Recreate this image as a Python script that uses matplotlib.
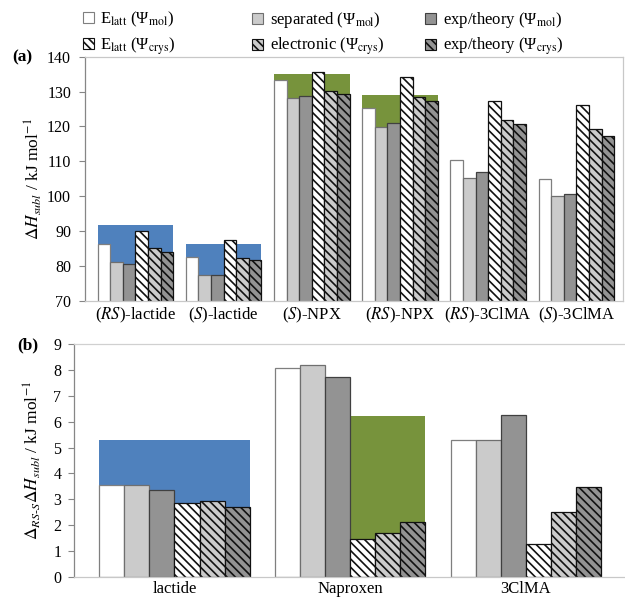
import numpy as np
import matplotlib
matplotlib.use('Agg')
import matplotlib.pyplot as plt
from matplotlib.patches import Patch

plt.rcParams['font.family'] = ['Liberation Serif', 'DejaVu Serif']
plt.rcParams['mathtext.fontset'] = 'stix'
plt.rcParams['hatch.linewidth'] = 1.2

# ---------------- data ----------------
series_labels = [r'E$_{\rm latt}$ (Ψ$_{\rm mol}$)',
                 r'separated (Ψ$_{\rm mol}$)',
                 r'exp/theory (Ψ$_{\rm mol}$)',
                 r'E$_{\rm latt}$ (Ψ$_{\rm crys}$)',
                 r'electronic (Ψ$_{\rm crys}$)',
                 r'exp/theory (Ψ$_{\rm crys}$)']

# Panel (a)
categories_a = [r'($\mathit{RS}$)-lactide', r'($\mathit{S}$)-lactide', r'($\mathit{S}$)-NPX',
                r'($\mathit{RS}$)-NPX', r'($\mathit{RS}$)-3ClMA', r'($\mathit{S}$)-3ClMA']
elatt_mol_a = [86.2, 82.6, 133.3, 125.2, 110.4, 105.0]
separated_mol_a = [81.1, 77.5, 128.1, 119.9, 105.2, 99.9]
exptheory_mol_a = [80.6, 77.3, 128.7, 120.9, 106.8, 100.6]
elatt_crys_a = [90.1, 87.3, 135.5, 134.3, 127.3, 126.2]
electronic_crys_a = [85.1, 82.2, 130.3, 128.5, 121.9, 119.4]
exptheory_crys_a = [84.1, 81.6, 129.4, 127.3, 120.7, 117.2]
experiment_a = [91.6, 86.2, 135.0, 129.0, np.nan, np.nan]

# Panel (b)
categories_b = ['lactide', 'Naproxen', '3ClMA']
elatt_mol_b = [3.54, 8.06, 5.29]
separated_mol_b = [3.56, 8.19, 5.29]
exptheory_mol_b = [3.35, 7.71, 6.24]
elatt_crys_b = [2.86, 1.47, 1.26]
electronic_crys_b = [2.93, 1.69, 2.52]
exptheory_crys_b = [2.72, 2.11, 3.49]
experiment_b = [5.3, 6.2, np.nan]

# ---------------- styles ----------------
BLUE = '#4F81BD'
GREEN = '#77933C'
HATCH = '\\\\\\\\'
styles = [
    dict(facecolor='white', edgecolor='#7F7F7F', hatch=None),
    dict(facecolor='#CBCBCB', edgecolor='#6F6F6F', hatch=None),
    dict(facecolor='#939393', edgecolor='#404040', hatch=None),
    dict(facecolor='white', edgecolor='#111111', hatch=HATCH),
    dict(facecolor='#CBCBCB', edgecolor='#111111', hatch=HATCH),
    dict(facecolor='#939393', edgecolor='#111111', hatch=HATCH),
]

W, H = 625, 602
fig = plt.figure(figsize=(W / 100, H / 100), dpi=100)


def fx(px):
    return px / W


def fy(py):
    return 1 - py / H


# ---------------- panel (a) ----------------
ax_a = fig.add_axes([fx(85), fy(300.7), fx(623) - fx(85), fy(56.7) - fy(300.7)])
series_a = [elatt_mol_a, separated_mol_a, exptheory_mol_a,
            elatt_crys_a, electronic_crys_a, exptheory_crys_a]
centers_a = 7 * np.arange(len(categories_a))
band_colors_a = [BLUE, BLUE, GREEN, GREEN, None, None]
for c, v, col in zip(centers_a, experiment_a, band_colors_a):
    if not np.isnan(v):
        ax_a.bar(c, v, width=6, color=col, edgecolor='none', zorder=1)
for j, (vals, st) in enumerate(zip(series_a, styles)):
    ax_a.bar(centers_a + (j - 2.5), vals, width=1, linewidth=0.9, zorder=2, **st)
ax_a.set_ylim(70, 140)
ax_a.set_xlim(-4, 38.7)
ax_a.set_yticks(np.arange(70, 141, 10))
ax_a.set_xticks(centers_a)
ax_a.set_xticklabels(categories_a, fontsize=12)
ax_a.tick_params(axis='x', length=0, pad=4)
ax_a.tick_params(axis='y', direction='out', length=4, color='#868686', labelsize=11.5, pad=6)
for s in ['top', 'right', 'bottom']:
    ax_a.spines[s].set_color('#C8C8C8')
ax_a.spines['left'].set_color('#868686')
for s in ax_a.spines.values():
    s.set_linewidth(0.9)

fig.text(fx(12), fy(57), '(a)', fontsize=12.5, weight='bold', va='center', ha='left')
fig.text(fx(33), fy(179), r'$\Delta H_{subl}$ / kJ mol$^{-1}$', rotation=90,
         fontsize=12.5, ha='center', va='center')

# ---------------- panel (b) ----------------
ax_b = fig.add_axes([fx(74), fy(577), 1 - fx(74), fy(344) - fy(577)])
series_b = [elatt_mol_b, separated_mol_b, exptheory_mol_b,
            elatt_crys_b, electronic_crys_b, exptheory_crys_b]
centers_b = 7 * np.arange(len(categories_b))
# blue band spans the whole lactide group, green band only the crystal bars of naproxen
ax_b.bar(centers_b[0], experiment_b[0], width=6, color=BLUE, edgecolor='none', zorder=1)
ax_b.bar(centers_b[1] + 1.5, experiment_b[1], width=3, color=GREEN, edgecolor='none', zorder=1)
for j, (vals, st) in enumerate(zip(series_b, styles)):
    ax_b.bar(centers_b + (j - 2.5), vals, width=1, linewidth=0.9, zorder=2, **st)
ax_b.set_ylim(0, 9)
ax_b.set_xlim(-4, 17.95)
ax_b.set_yticks(np.arange(0, 10, 1))
ax_b.set_xticks(centers_b)
ax_b.set_xticklabels(categories_b, fontsize=12)
ax_b.tick_params(axis='x', length=0, pad=3)
ax_b.tick_params(axis='y', direction='out', length=4, color='#868686', labelsize=11.5, pad=5)
ax_b.spines['top'].set_color('#D0D0D0')
ax_b.spines['right'].set_visible(False)
ax_b.spines['bottom'].set_color('#C8C8C8')
ax_b.spines['left'].set_color('#868686')
for s in ax_b.spines.values():
    s.set_linewidth(0.9)

fig.text(fx(17), fy(345), '(b)', fontsize=12.5, weight='bold', va='center', ha='left')
fig.text(fx(32), fy(460), r'$\Delta_{RS\text{-}S}\Delta H_{subl}$ / kJ mol$^{-1}$', rotation=90,
         fontsize=12.5, ha='center', va='center')

# ---------------- legend ----------------
handles = [Patch(linewidth=0.8, **st) for st in styles]
col_x = [83, 252, 425]
for k in range(3):
    hs = [handles[k], handles[k + 3]]
    ls = [series_labels[k], series_labels[k + 3]]
    fig.legend(hs, ls, loc='upper left', bbox_to_anchor=(fx(col_x[k]), fy(10)),
               frameon=False, fontsize=12, handlelength=0.65, handleheight=0.65,
               handletextpad=0.4, labelspacing=0.35, borderpad=0, borderaxespad=0)

fig.savefig('out.png', dpi=100)
